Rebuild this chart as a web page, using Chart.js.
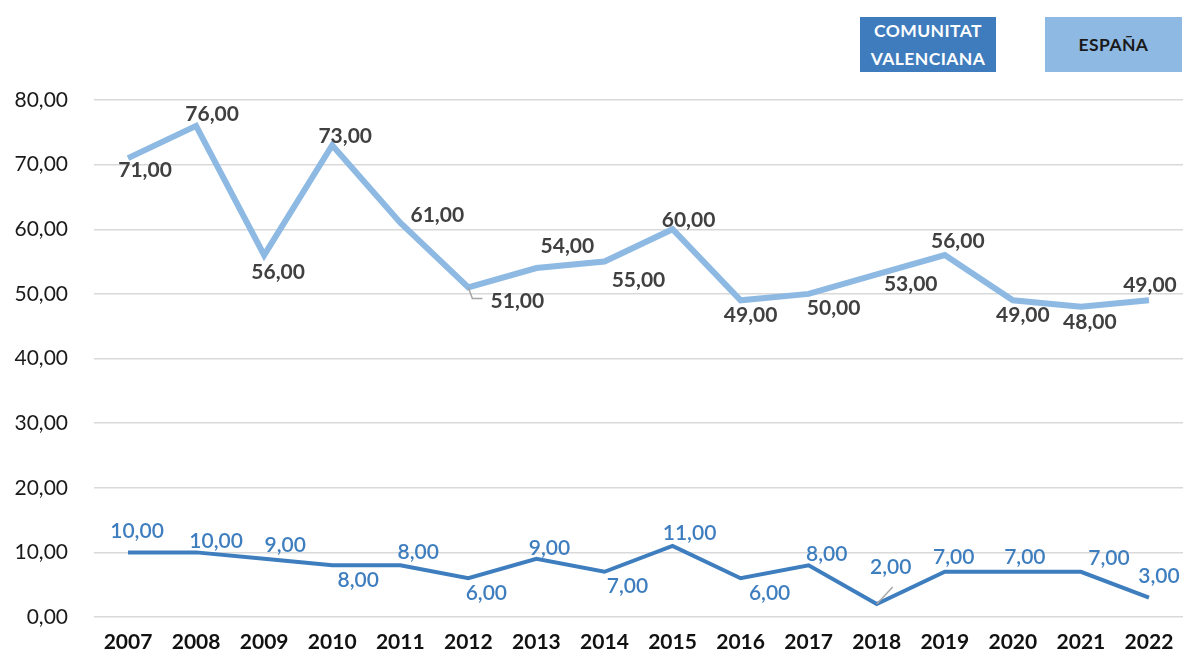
<!DOCTYPE html>
<html>
<head>
<meta charset="utf-8">
<script src="https://cdn.jsdelivr.net/npm/chart.js@4/dist/chart.umd.min.js"></script>
<style>
  html, body { margin: 0; padding: 0; background: #fff; }
  #wrap { position: relative; width: 1185px; height: 664px; }
  canvas { position: absolute; left: 0; top: 0; }
  .leg { position: absolute; display: flex; align-items: center; justify-content: center; text-align: center;
         font-family: Lato, "Open Sans", sans-serif; font-weight: 700; font-size: 17.5px; line-height: 28px; letter-spacing: 0.4px; }
  #legCV { left: 860px; top: 17px; width: 136px; height: 55px; background: #3E7CBD; color: #fff; }
  #legES { left: 1045px; top: 17px; width: 137px; height: 55px; background: #8DB9E3; color: #1a1a1a; }
</style>
</head>
<body>
<div id="wrap">
  <canvas id="c" width="1185" height="664"></canvas>
  <div class="leg" id="legCV">COMUNITAT<br>VALENCIANA</div>
  <div class="leg" id="legES">ESPAÑA</div>
</div>
<script>
const years = ['2007','2008','2009','2010','2011','2012','2013','2014','2015','2016','2017','2018','2019','2020','2021','2022'];
const espana = [71,76,56,73,61,51,54,55,60,49,50,53,56,49,48,49];
const comunitat = [10,10,9,8,8,6,9,7,11,6,8,2,7,7,7,3];
const yTicks = [0,10,20,30,40,50,60,70,80];

// label offsets (style, px)
const esOffsets = [[17,12],[16,-12],[14,17],[13,-9],[37,-8],[49,14],[31,-22],[34,19],[16,-9],[10,15],[25,14],[34,10],[13,-14],[10,15],[9,15],[1,-15]];
const cvOffsets = [[9,-21],[20,-11],[21,-14],[26,15],[18,-13],[18,15],[13,-11],[23,14],[17,-13],[29,15],[18,-11],[14,-37],[9,-15],[12,-15],[28,-14],[10,-21]];

const fmt = v => v.toFixed(2).replace('.', ',');

const labelPlugin = {
  id: 'pointLabels',
  afterDatasetsDraw(chart) {
    const ctx = chart.ctx;
    chart.data.datasets.forEach((ds, di) => {
      const meta = chart.getDatasetMeta(di);
      const offs = ds.labelOffsets;
      ctx.save();
      ctx.font = ds.labelFont;
      ctx.fillStyle = ds.labelColor;
      ctx.textAlign = 'center';
      ctx.textBaseline = 'middle';
      meta.data.forEach((pt, i) => {
        const [dx, dy] = offs[i];
        const lx = pt.x + dx, ly = pt.y + dy;
        if (ds.leaders && ds.leaders[i]) {
          ctx.save();
          ctx.strokeStyle = '#a6a6a6';
          ctx.lineWidth = 1.5;
          ctx.beginPath();
          const L = ds.leaders[i];
          ctx.moveTo(pt.x, pt.y);
          L.forEach(p => ctx.lineTo(pt.x + p[0], pt.y + p[1]));
          ctx.stroke();
          ctx.restore();
        }
        ctx.fillText(fmt(ds.data[i]), lx, ly);
      });
      ctx.restore();
    });
  }
};

const esLeaders = {5: [[4,11],[14,11]]};
const cvLeaders = {11: [[16,-17]]};

new Chart(document.getElementById('c'), {
  type: 'line',
  data: {
    labels: years,
    datasets: [
      {
        label: 'ESPAÑA',
        data: espana,
        borderColor: '#8DB9E3',
        borderWidth: 6,
        pointRadius: 0,
        tension: 0,
        labelOffsets: esOffsets,
        labelFont: 'bold 21px Lato, "Open Sans", sans-serif',
        labelColor: '#404040',
        leaders: esLeaders
      },
      {
        label: 'COMUNITAT VALENCIANA',
        data: comunitat,
        borderColor: '#3E7EBF',
        borderWidth: 4,
        pointRadius: 0,
        tension: 0,
        labelOffsets: cvOffsets,
        labelFont: '600 21px Lato, "Open Sans", sans-serif',
        labelColor: '#3E7EBF',
        leaders: cvLeaders
      }
    ]
  },
  options: {
    responsive: false,
    animation: false,
    devicePixelRatio: 1,
    layout: { padding: { top: 100, right: 2, left: 0, bottom: 8 } },
    plugins: { legend: { display: false }, tooltip: { enabled: false } },
    scales: {
      x: {
        offset: true,
        grid: { display: false, offset: true },
        border: { display: false },
        afterFit(scale) { scale.height = 39; },
        ticks: {
          color: '#111',
          font: { family: 'Lato', size: 21, weight: 'bold' },
          padding: 5,
          maxRotation: 0,
          autoSkip: false
        }
      },
      y: {
        min: 0, max: 80,
        afterBuildTicks(scale) { scale.ticks = yTicks.map(v => ({ value: v })); },
        afterFit(scale) { scale.width = 94; },
        grid: { color: '#d9d9d9', lineWidth: 1.5, drawTicks: false },
        border: { display: false },
        ticks: {
          color: '#1a1a1a',
          font: { family: 'Lato', size: 21 },
          padding: 26,
          callback: v => fmt(v)
        }
      }
    }
  },
  plugins: [labelPlugin]
});
</script>
</body>
</html>
